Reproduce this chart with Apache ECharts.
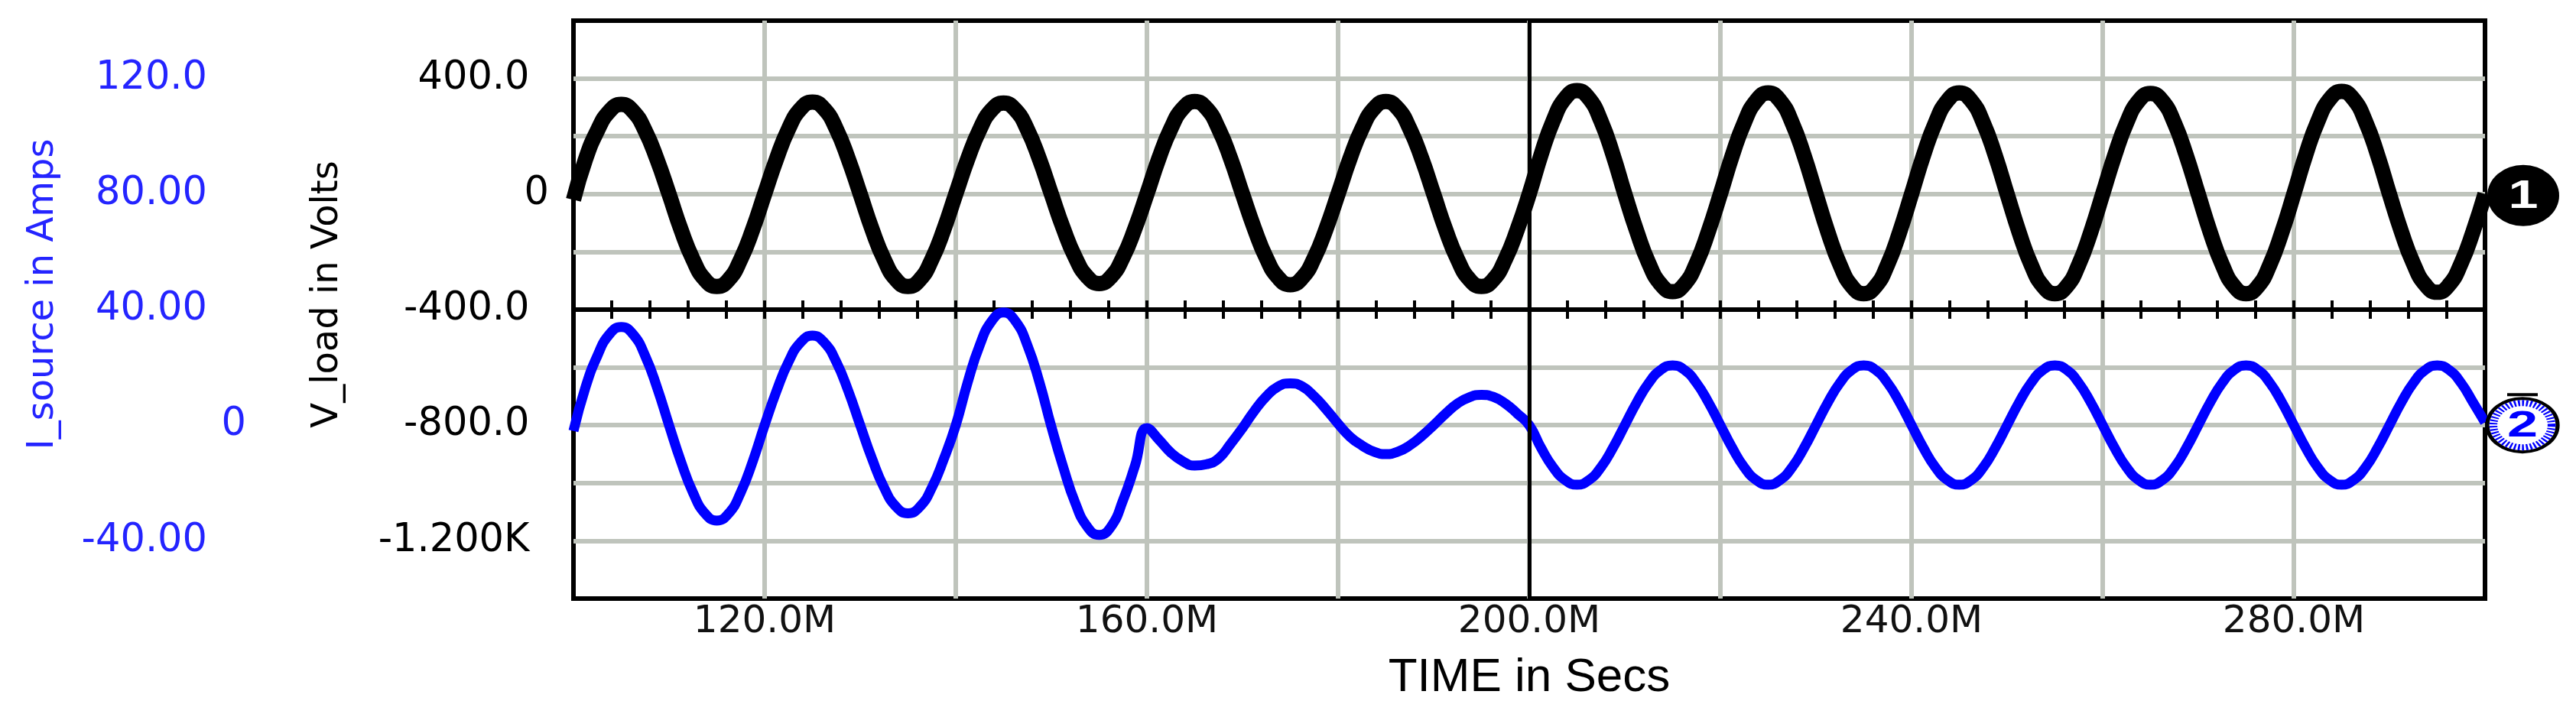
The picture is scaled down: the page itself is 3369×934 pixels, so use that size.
<!DOCTYPE html>
<html>
<head>
<meta charset="utf-8">
<script src="https://cdn.jsdelivr.net/npm/echarts/dist/echarts.min.js"></script>
<style>
html,body{margin:0;padding:0;background:#fff;}
#c{width:3369px;height:934px;}
</style>
</head>
<body>
<div id="c"></div>
<script>
// ---- data (time in ms, shown as "M") ----
const timeMs = [100,
 101.25,102.5,103.75,105,106.25,107.5,108.75,110,111.25,112.5,113.75,115,116.25,117.5,118.75,120,
 121.25,122.5,123.75,125,126.25,127.5,128.75,130,131.25,132.5,133.75,135,136.25,137.5,138.75,140,
 141.25,142.5,143.75,145,146.25,147.5,148.75,150,151.25,152.5,153.75,155,156.25,157.5,158.75,160,
 161.25,162.5,163.75,165,166.25,167.5,168.75,170,171.25,172.5,173.75,175,176.25,177.5,178.75,180,
 181.25,182.5,183.75,185,186.25,187.5,188.75,190,191.25,192.5,193.75,195,196.25,197.5,198.75,200,
 201.25,202.5,203.75,205,206.25,207.5,208.75,210,211.25,212.5,213.75,215,216.25,217.5,218.75,220,
 221.25,222.5,223.75,225,226.25,227.5,228.75,230,231.25,232.5,233.75,235,236.25,237.5,238.75,240,
 241.25,242.5,243.75,245,246.25,247.5,248.75,250,251.25,252.5,253.75,255,256.25,257.5,258.75,260,
 261.25,262.5,263.75,265,266.25,267.5,268.75,270,271.25,272.5,273.75,275,276.25,277.5,278.75,280,
 281.25,282.5,283.75,285,286.25,287.5,288.75,290,291.25,292.5,293.75,295,296.25,297.5,298.75,300];
const vLoad = [-20,
 119,219,286,310,286,219,119,0,-123,-226,-296,-320,-296,-226,-123,0,
 122,225,294,318,294,225,122,0,-123,-226,-296,-320,-296,-226,-123,0,
 121,223,291,315,291,223,121,0,-119,-219,-286,-310,-286,-219,-119,0,
 123,226,296,320,296,226,123,0,-120,-222,-290,-314,-290,-222,-120,0,
 123,226,296,320,296,226,123,0,-123,-226,-296,-320,-296,-226,-123,0,
 137,253,331,358,331,253,137,0,-129,-239,-312,-338,-312,-239,-129,0,
 134,247,323,350,323,247,134,0,-132,-244,-319,-345,-319,-244,-132,0,
 134,247,323,350,323,247,134,0,-132,-244,-319,-345,-319,-244,-132,0,
 133,246,322,348,322,246,133,0,-132,-244,-319,-345,-319,-244,-132,0,
 136,251,328,355,328,251,136,0,-130,-240,-314,-340,-314,-240,-130,0];
const iSource = [-2,
 13,24,31.4,34,31.4,24,13,0,-12.6,-23.3,-30.5,-33,-30.5,-23.3,-12.6,0,
 11.9,21.9,28.6,31,28.6,21.9,11.9,0,-11.7,-21.6,-28.2,-30.5,-28.2,-21.6,-11.7,0,
 14.9,27.6,36,39,36,27.6,14.9,-0.5,-14.6,-26.9,-35.1,-38,-35.1,-26,-14,-1,
 -5,-9.5,-12.5,-14,-13.5,-11.5,-6.5,-1,5,10,13.4,14.5,13.4,10,5.5,0.5,
 -4,-7,-9.2,-10,-9.2,-7,-3.8,0,4,7.5,9.7,10.5,9.8,7.5,4,0,
 -7.9,-14.6,-19,-20.6,-19,-14.6,-7.9,0,7.9,14.6,19.1,20.7,19.1,14.6,7.9,0,
 -7.9,-14.6,-19,-20.6,-19,-14.6,-7.9,0,7.9,14.6,19.1,20.7,19.1,14.6,7.9,0,
 -7.9,-14.6,-19,-20.6,-19,-14.6,-7.9,0,7.9,14.6,19.1,20.7,19.1,14.6,7.9,0,
 -7.9,-14.6,-19,-20.6,-19,-14.6,-7.9,0,7.9,14.6,19.1,20.7,19.1,14.6,7.9,0,
 -7.9,-14.6,-19,-20.6,-19,-14.6,-7.9,0,7.9,14.6,19.1,20.7,19.1,14.6,7.9,1];
const xTickValues = [120,160,200,240,280];
const xTickLabels = ['120.0M','160.0M','200.0M','240.0M','280.0M'];
const vTickValues = [400,0,-400,-800,-1200];
const vTickLabels = ['400.0','0','-400.0','-800.0','-1.200K'];
const iTickValues = [120,80,40,0,-40];
const iTickLabels = ['120.0','80.00','40.00','0','-40.00'];
const cursorTime = 200;
const traceTags = ['1','2'];

// ---- helpers ----
function lookup(vals, labels, v){
  const k = vals.findIndex(x => Math.abs(x - v) < 1e-6);
  return k < 0 ? '' : labels[k];
}
// non-zero labels sit a little further left than the "0" label
function yFmt(vals, labels, pad){
  return v => {
    const s = lookup(vals, labels, v);
    if (!s) return '';
    return s === '0' ? s : s + pad;
  };
}
const GRID = '#bfc4bc';
const BLUE = '#0000ff';
const LBLUE = '#2424ff';
const midAxis = (gi, pos) => ({
  gridIndex:gi, type:'value', min:100, max:300, interval:20, position:pos,
  axisLine:{show:true,onZero:false,lineStyle:{color:'#000',width:6}},
  axisTick:{show:true,inside:true,length:12,lineStyle:{color:'#000',width:4}},
  minorTick:{show:true,splitNumber:5,length:12,lineStyle:{color:'#000',width:4}},
  axisLabel:{show:false}, splitLine:{show:false}
});

const chart = echarts.init(document.getElementById('c'), null, {renderer:'canvas'});
chart.setOption({
  animation:false,
  backgroundColor:'#fff',
  grid:[
    {left:750,right:119,top:27,bottom:151,show:true,borderColor:'#000',borderWidth:6,backgroundColor:'#fff'},
    {left:750,right:119,top:27,height:378},
    {left:750,right:119,top:405,bottom:151}
  ],
  xAxis:[
    {gridIndex:0,type:'value',min:100,max:300,interval:20,
     axisLine:{show:false,onZero:false},axisTick:{show:false},
     splitLine:{show:true,showMinLine:false,showMaxLine:false,lineStyle:{color:GRID,width:6}},
     axisLabel:{formatter:v=>lookup(xTickValues,xTickLabels,v),fontFamily:'DejaVu Sans',fontSize:50,color:'#111',margin:6},
     name:'TIME in Secs',nameLocation:'middle',nameGap:73,
     nameTextStyle:{fontFamily:'Liberation Sans',fontSize:62,color:'#000'}},
    midAxis(1,'bottom'),
    midAxis(2,'top')
  ],
  yAxis:[
    {gridIndex:0,type:'value',min:-1400,max:600,interval:200,position:'left',
     axisLine:{show:false},axisTick:{show:false},
     splitLine:{show:true,showMinLine:false,showMaxLine:false,lineStyle:{color:GRID,width:6}},
     axisLabel:{margin:32,formatter:yFmt(vTickValues,vTickLabels,'\u2002'),fontFamily:'DejaVu Sans',fontSize:51,color:'#000'},
     name:'V_load in Volts',nameLocation:'middle',nameGap:297,
     nameTextStyle:{fontFamily:'DejaVu Sans',fontSize:48,color:'#000',padding:[0,0,0,40]}},
    {gridIndex:0,type:'value',min:-60,max:140,interval:20,position:'left',offset:396,
     axisLine:{show:false},axisTick:{show:false},splitLine:{show:false},
     axisLabel:{margin:32,formatter:yFmt(iTickValues,iTickLabels,'\u2003'),fontFamily:'DejaVu Sans',fontSize:51,color:LBLUE},
     name:'I_source in Amps',nameLocation:'middle',nameGap:273,
     nameTextStyle:{fontFamily:'DejaVu Sans',fontSize:48,color:LBLUE,padding:[0,0,0,40]}},
    {gridIndex:1,type:'value',min:0,max:1,show:false},
    {gridIndex:2,type:'value',min:0,max:1,show:false}
  ],
  series:[
    {name:'V_load',type:'line',xAxisIndex:0,yAxisIndex:0,
     data:timeMs.map((t,k)=>[t,vLoad[k]]),
     showSymbol:false,smooth:true,z:2,silent:true,
     itemStyle:{color:'#000'},lineStyle:{color:'#000',width:20},
     markLine:{silent:true,symbol:['none','none'],label:{show:false},
       lineStyle:{color:'#000',width:5,type:'solid'},data:[{xAxis:cursorTime}]}},
    {name:'I_source',type:'line',xAxisIndex:0,yAxisIndex:1,
     data:timeMs.map((t,k)=>[t,iSource[k]]),
     showSymbol:false,smooth:true,z:3,silent:true,
     itemStyle:{color:BLUE},lineStyle:{color:BLUE,width:13}}
  ]
});

// trace tags at the right end of each trace
const p1 = chart.convertToPixel({xAxisIndex:0,yAxisIndex:0},[300,0]);
const p2 = chart.convertToPixel({xAxisIndex:0,yAxisIndex:1},[300,0]);
const c1x = p1[0]+50, c1y = p1[1]+2;
const c2x = p2[0]+49, c2y = p2[1];
chart.setOption({
  graphic:[
    {type:'circle',z:100,x:c1x,y:c1y,scaleX:47/40,shape:{cx:0,cy:0,r:40},style:{fill:'#000'}},
    {type:'text',z:101,x:c1x,y:c1y+2,scaleX:1.35,style:{text:traceTags[0],fill:'#fff',font:'bold 52px "Liberation Sans"',align:'center',verticalAlign:'middle'}},
    {type:'circle',z:100,x:c2x,y:c2y,scaleX:46/35,shape:{cx:0,cy:0,r:35},style:{fill:'#fff',stroke:'#000',lineWidth:4}},
    {type:'circle',z:100,x:c2x,y:c2y,scaleX:46/35,shape:{cx:0,cy:0,r:29},style:{fill:'none',stroke:BLUE,lineWidth:8,lineDash:[2,2]}},
    {type:'line',z:100,shape:{x1:c2x-20,y1:c2y-40,x2:c2x+20,y2:c2y-40},style:{stroke:'#000',lineWidth:4}},
    {type:'text',z:101,x:c2x,y:c2y+2,scaleX:1.5,style:{text:traceTags[1],fill:BLUE,font:'bold 48px "Liberation Sans"',align:'center',verticalAlign:'middle'}}
  ]
});
</script>
</body>
</html>
